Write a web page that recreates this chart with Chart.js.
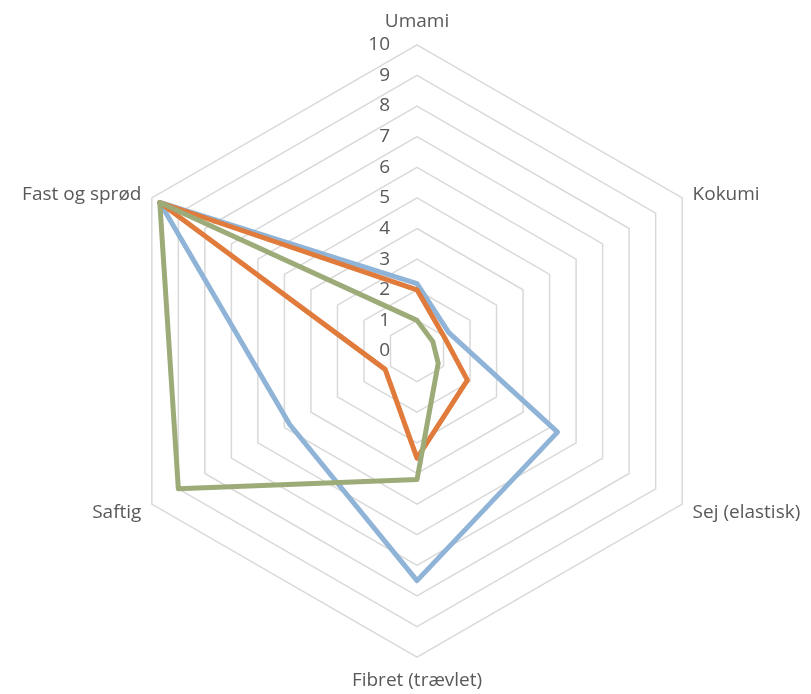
<!DOCTYPE html>
<html>
<head>
<meta charset="utf-8">
<script src="https://cdn.jsdelivr.net/npm/chart.js@4"></script>
<style>
  html, body { margin: 0; padding: 0; background: #fff; }
  #wrap { width: 811px; height: 694px; }
</style>
</head>
<body>
<div id="wrap"><canvas id="radarChart" width="811" height="694"></canvas></div>
<script>
// --- Data ---
const categories = ["Umami", "Kokumi", "Sej (elastisk)", "Fibret (trævlet)", "Saftig", "Fast og sprød"];
const tickLabels = [0, 1, 2, 3, 4, 5, 6, 7, 8, 9, 10];
const blueValues = [2.2, 1.2, 5.3, 7.5, 4.8, 9.7];
const orangeValues = [2.0, 1.0, 1.9, 3.5, 1.2, 9.7];
const greenValues = [1.0, 0.6, 0.8, 4.2, 9.0, 9.7];

const FONT = '"Open Sans", "DejaVu Sans", sans-serif';
const TEXT_COLOR = "#595959";

// tick labels left of the top axis + category labels placed Excel style
const labelPlugin = {
  id: "labelPlugin",
  beforeDatasetsDraw(chart) {
    const s = chart.scales.r;
    const ctx = chart.ctx;
    ctx.save();
    ctx.font = "19px " + FONT;
    ctx.fillStyle = TEXT_COLOR;
    ctx.textAlign = "right";
    ctx.textBaseline = "middle";
    tickLabels.forEach(v => {
      const y = s.yCenter - s.getDistanceFromCenterForValue(v);
      ctx.fillText(String(v), s.xCenter - 27, y);
    });

    categories.forEach((name, i) => {
      const vertical = (i === 0 || i === 3);
      const p = s.getPointPosition(i, s.drawingArea + (vertical ? 14 : 12));
      if (vertical) {
        ctx.textAlign = "center";
        ctx.textBaseline = i === 0 ? "bottom" : "top";
        ctx.fillText(name, p.x, p.y);
      } else {
        ctx.textAlign = p.x > s.xCenter ? "left" : "right";
        ctx.textBaseline = "middle";
        const dy = p.y < s.yCenter ? 3 : 2;
        ctx.fillText(name, p.x, p.y + dy);
      }
    });
    ctx.restore();
  }
};

function makeSet(data, color, order) {
  return {
    data: data,
    borderColor: color,
    backgroundColor: color,
    borderWidth: 5,
    fill: false,
    pointRadius: 0,
    pointHoverRadius: 0,
    tension: 0,
    borderJoinStyle: "round",
    order: order
  };
}

const ctx = document.getElementById("radarChart").getContext("2d");
new Chart(ctx, {
  type: "radar",
  data: {
    labels: categories,
    datasets: [
      makeSet(blueValues, "#8fb4d7", 3),
      makeSet(orangeValues, "#e07b3c", 2),
      makeSet(greenValues, "#9dab78", 1)
    ]
  },
  options: {
    responsive: false,
    devicePixelRatio: 1,
    animation: false,
    layout: { padding: { top: 10, bottom: 2, left: 12, right: 2 } },
    plugins: {
      legend: { display: false },
      tooltip: { enabled: false }
    },
    scales: {
      r: {
        min: 0,
        max: 10,
        ticks: { stepSize: 1, display: false },
        angleLines: { display: false },
        grid: { color: "#d9d9d9", lineWidth: 1.5 },
        pointLabels: {
          // kept for layout fitting, drawn by labelPlugin instead
          color: "rgba(0,0,0,0)",
          padding: 12,
          font: { family: FONT, size: 19 }
        }
      }
    }
  },
  plugins: [labelPlugin]
});
</script>
</body>
</html>
